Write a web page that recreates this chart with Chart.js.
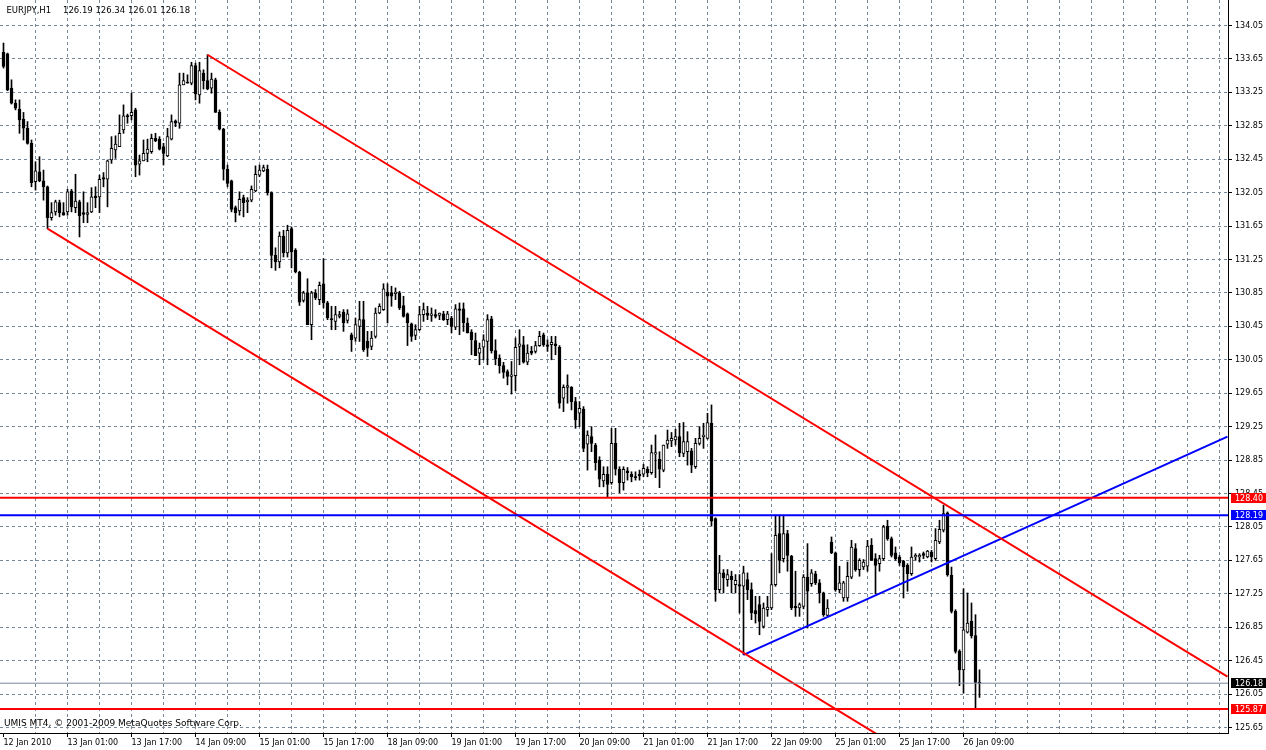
<!DOCTYPE html>
<html>
<head>
<meta charset="utf-8">
<script src="https://cdn.jsdelivr.net/npm/chart.js@4.4.1/dist/chart.umd.min.js"></script>
<style>
html,body{margin:0;padding:0;background:#ffffff;overflow:hidden;}
#wrap{position:relative;width:1266px;height:750px;}
canvas{display:block;}
</style>
</head>
<body>
<div id="wrap"><canvas id="c" width="1266" height="750"></canvas></div>
<script>
// ---------------- data ----------------
const symbol = 'EURJPY,H1';
const lastOHLC = [126.19, 126.34, 126.01, 126.18];
const copyright = 'UMIS MT4, \u00A9 2001-2009 MetaQuotes Software Corp.';

// time labels, one every 16 hourly bars starting at bar 0
const timeLabels = ['12 Jan 2010','13 Jan 01:00','13 Jan 17:00','14 Jan 09:00','15 Jan 01:00','15 Jan 17:00',
  '18 Jan 09:00','19 Jan 01:00','19 Jan 17:00','20 Jan 09:00','21 Jan 01:00','21 Jan 17:00','22 Jan 09:00',
  '25 Jan 01:00','25 Jan 17:00','26 Jan 09:00'];

const yTickValues = [125.65,126.05,126.45,126.85,127.25,127.65,128.05,128.45,128.85,129.25,129.65,
  130.05,130.45,130.85,131.25,131.65,132.05,132.45,132.85,133.25,133.65,134.05];

const opens = [
133.73,133.71,133.30,133.12,133.05,132.93,132.82,132.64,132.18,132.30,132.19,132.12,131.75,131.82,131.93,131.81,
131.82,132.07,131.87,131.94,131.81,131.79,131.82,132.01,132.00,132.23,132.21,132.44,132.56,132.60,132.80,132.97,
132.97,133.04,132.39,132.43,132.52,132.54,132.70,132.69,132.60,132.49,132.69,132.91,132.88,133.34,133.37,133.36,
133.57,133.22,133.48,133.39,133.30,133.40,133.01,132.81,132.33,132.19,131.87,131.83,131.99,131.94,131.96,132.07,
132.26,132.31,132.33,132.05,131.30,131.22,131.53,131.33,131.62,131.36,131.10,130.76,130.85,130.47,130.85,130.77,
130.96,130.73,130.54,130.51,130.57,130.62,130.52,130.35,130.31,130.45,130.53,130.27,130.21,130.33,130.61,130.65,
130.86,130.85,130.84,130.85,130.70,130.60,130.48,130.34,130.41,130.59,130.61,130.58,130.59,130.58,130.60,130.53,
130.55,130.44,130.66,130.66,130.49,130.38,130.28,130.13,130.20,130.27,130.54,130.16,130.07,129.98,129.91,129.85,
129.86,130.21,130.23,130.02,130.15,130.15,130.22,130.35,130.23,130.23,130.24,130.20,129.59,129.72,129.72,129.55,
129.41,129.46,129.04,129.13,129.03,128.85,128.60,128.68,128.58,129.05,128.74,128.58,128.72,128.68,128.65,128.68,
128.68,128.74,128.70,128.92,128.86,128.73,129.04,129.08,129.09,129.13,128.93,128.95,128.96,128.77,129.05,129.13,
129.11,129.29,128.15,127.30,127.50,127.42,127.46,127.36,127.36,127.34,127.42,127.30,127.05,127.12,126.86,127.06,
127.08,127.36,127.97,127.67,127.97,127.70,127.10,127.08,127.10,127.45,127.37,127.49,127.38,127.26,126.99,127.87,
127.74,127.30,127.20,127.20,127.45,127.79,127.54,127.57,127.58,127.83,127.67,127.61,127.67,128.06,127.91,127.74,
127.69,127.64,127.59,127.49,127.69,127.69,127.73,127.69,127.75,127.67,127.87,128.01,128.22,127.47,127.04,126.56,
126.34,126.79,126.92,126.75,126.19];

const highs = [
133.84,133.72,133.40,133.16,133.16,133.01,132.90,132.68,132.42,132.48,132.32,132.13,131.93,131.96,131.96,131.93,
132.09,132.09,132.27,131.96,132.06,131.93,132.11,132.12,132.26,132.29,132.44,132.72,132.73,132.98,133.10,132.99,
133.24,133.06,132.50,132.68,132.69,132.75,132.76,132.72,132.64,132.82,132.98,132.92,133.48,133.48,133.46,133.61,
133.60,133.61,133.52,133.70,133.48,133.42,133.04,132.82,132.38,132.20,131.89,132.06,132.02,131.99,132.13,132.37,
132.38,132.38,132.38,132.06,131.39,131.58,131.60,131.66,131.64,131.38,131.11,130.87,131.02,130.87,130.89,130.98,
131.26,130.75,130.69,130.69,130.63,130.65,130.65,130.37,130.55,130.75,130.75,130.39,130.39,130.67,130.72,130.96,
130.96,130.93,130.91,130.87,130.81,130.61,130.49,130.47,130.69,130.73,130.69,130.67,130.65,130.61,130.63,130.63,
130.57,130.71,130.73,130.73,130.55,130.41,130.37,130.25,130.35,130.59,130.57,130.29,130.11,130.02,129.93,130.03,
130.31,130.41,130.33,130.23,130.21,130.27,130.39,130.37,130.29,130.33,130.33,130.22,129.75,129.87,129.73,129.60,
129.55,129.49,129.20,129.25,129.05,128.89,128.77,128.77,129.23,129.23,128.77,128.77,128.76,128.71,128.71,128.73,
128.80,128.77,129.03,129.15,128.95,129.03,129.21,129.18,129.22,129.29,129.30,129.19,128.99,129.11,129.25,129.29,
129.41,129.51,128.16,127.71,127.54,127.54,127.52,127.48,127.48,127.58,127.50,127.38,127.22,127.22,127.14,127.22,
127.73,128.19,128.19,128.19,128.01,127.71,127.52,127.14,127.48,127.85,127.54,127.52,127.42,127.27,127.18,127.93,
127.75,127.58,127.40,127.63,127.89,127.85,127.67,127.66,127.89,127.91,127.73,127.71,128.07,128.13,127.93,127.81,
127.71,127.65,127.61,127.81,127.73,127.73,127.75,127.77,127.77,128.03,128.13,128.31,128.23,127.57,127.06,126.58,
127.31,127.26,127.14,127.00,126.34];

const lows = [
133.54,133.27,133.11,133.04,132.76,132.68,132.63,132.12,132.08,132.18,131.96,131.62,131.72,131.78,131.76,131.78,
131.78,131.82,131.81,131.52,131.69,131.69,131.81,131.87,131.81,132.12,131.88,132.40,132.46,132.60,132.76,132.88,
132.92,132.24,132.26,132.43,132.42,132.52,132.66,132.56,132.38,132.48,132.68,132.84,132.82,133.34,133.36,133.34,
133.16,133.12,133.29,133.28,133.24,133.01,132.80,132.20,132.12,131.82,131.70,131.78,131.76,131.81,131.94,132.06,
132.24,132.30,132.02,131.15,131.12,131.15,131.28,131.28,131.15,131.09,130.70,130.74,130.47,130.29,130.77,130.71,
130.67,130.53,130.41,130.41,130.55,130.39,130.49,130.15,130.27,130.27,130.15,130.09,130.17,130.31,130.60,130.64,
130.49,130.69,130.77,130.65,130.56,130.22,130.27,130.29,130.40,130.51,130.53,130.51,130.55,130.53,130.52,130.47,
130.37,130.41,130.35,130.39,130.37,130.11,130.10,129.99,130.05,129.99,130.13,129.99,129.89,129.83,129.75,129.64,
129.68,129.99,130.01,129.99,130.11,130.13,130.21,130.21,130.15,130.05,130.11,129.47,129.43,129.53,129.45,129.23,
129.25,128.95,128.73,128.95,128.73,128.53,128.53,128.41,128.56,128.67,128.46,128.49,128.61,128.59,128.61,128.61,
128.65,128.65,128.68,128.64,128.52,128.71,128.99,129.01,129.03,128.89,128.89,128.79,128.70,128.75,129.03,128.99,
129.10,128.06,127.16,127.26,127.26,127.34,127.26,127.26,127.02,126.52,127.18,126.94,126.90,126.76,126.84,126.98,
127.06,127.34,127.50,127.63,127.52,127.06,126.98,126.98,127.07,126.84,127.34,127.36,127.14,126.98,126.98,127.73,
127.28,127.26,127.16,127.16,127.43,127.52,127.46,127.54,127.52,127.65,127.25,127.52,127.65,127.89,127.69,127.65,
127.59,127.20,127.28,127.47,127.65,127.63,127.67,127.68,127.63,127.65,127.85,127.99,127.46,127.02,126.54,126.15,
126.06,126.78,126.72,125.87,126.01];

const closes = [
133.56,133.28,133.12,133.06,132.92,132.82,132.64,132.17,132.31,132.19,132.12,131.75,131.81,131.94,131.81,131.78,
132.06,131.88,131.95,131.77,131.79,131.81,132.00,131.99,132.21,132.21,132.43,132.58,132.63,132.76,132.97,132.96,
133.01,132.38,132.43,132.52,132.57,132.70,132.67,132.57,132.52,132.72,132.90,132.88,133.34,133.39,133.36,133.57,
133.23,133.51,133.39,133.29,133.41,133.01,132.81,132.33,132.16,131.85,131.81,131.97,131.93,131.96,132.09,132.27,
132.32,132.35,132.05,131.30,131.22,131.53,131.33,131.60,131.34,131.10,130.74,130.85,130.47,130.85,130.79,130.94,
130.73,130.55,130.53,130.59,130.59,130.49,130.60,130.29,130.47,130.53,130.17,130.19,130.31,130.61,130.69,130.90,
130.81,130.81,130.86,130.67,130.57,130.49,130.33,130.41,130.59,130.65,130.58,130.60,130.57,130.61,130.53,130.60,
130.45,130.66,130.64,130.49,130.37,130.29,130.10,130.19,130.29,130.53,130.16,130.06,129.98,129.90,129.85,129.87,
130.20,130.24,130.02,130.13,130.13,130.22,130.33,130.23,130.21,130.26,130.22,129.53,129.72,129.74,129.55,129.33,
129.47,128.99,129.15,129.05,128.82,128.62,128.68,128.56,129.05,128.74,128.58,128.74,128.70,128.65,128.64,128.66,
128.75,128.70,128.94,128.94,128.74,129.03,129.09,129.11,129.13,128.94,129.07,129.07,128.79,129.05,129.11,129.15,
129.30,128.12,127.30,127.50,127.44,127.48,127.42,127.41,127.34,127.50,127.30,127.02,127.01,126.92,127.08,127.09,
127.36,127.95,127.65,127.97,127.71,127.08,127.08,127.12,127.45,127.28,127.50,127.38,127.26,127.00,127.08,127.74,
127.30,127.38,127.38,127.46,127.81,127.54,127.65,127.63,127.82,127.65,127.59,127.67,128.05,127.91,127.71,127.67,
127.62,127.57,127.49,127.69,127.71,127.71,127.71,127.76,127.69,127.89,128.02,128.21,127.48,127.04,126.56,126.34,
126.82,126.90,126.75,126.19,126.18];

// hand-drawn objects: [bar index, price] anchor pairs
const upperChannel = [[51, 133.70], [306, 126.26]];
const lowerChannel = [[11, 131.62], [230, 125.23]];
const blueTrend    = [[185, 126.52], [306, 129.13]];
const redLevels  = [128.40, 125.87];
const blueLevels = [128.19];
const bidPrice = 126.18;

// ---------------- chart ----------------
const X_MIN = -0.875, X_MAX = 306.125;
const Y_MIN = 125.5842, Y_MAX = 134.355;
const GRID = '#778899';
const FONT = 'DejaVu Sans';
Chart.defaults.font.family = FONT;
Chart.defaults.font.size = 8;
Chart.defaults.color = '#000000';

const barIdx = opens.map((_, i) => i);
const wickData = barIdx.map(i => ({x: i, y: [lows[i], highs[i]]}));
const bodyData = barIdx.map(i => ({x: i, y: [opens[i], closes[i]]}));
const isUp = i => closes[i] > opens[i];
const seg = pts => pts.map(p => ({x: p[0], y: p[1]}));
const hseg = v => [{x: X_MIN, y: v}, {x: X_MAX, y: v}];

const lineDs = (data, color, width) => ({
  type: 'line', data, borderColor: color, borderWidth: width, pointRadius: 0,
  fill: false, tension: 0, order: 1, clip: 0
});

const datasets = [
  {type: 'bar', data: wickData, backgroundColor: '#000000', borderWidth: 0, barThickness: 1,
   grouped: false, order: 4},
  {type: 'bar', data: bodyData,
   backgroundColor: c => isUp(c.dataIndex) ? '#ffffff' : '#000000',
   borderColor: '#000000', borderWidth: 1, borderSkipped: false, barThickness: 3,
   minBarLength: 1, grouped: false, order: 3},
  lineDs(hseg(bidPrice), GRID, 1),
  ...redLevels.map(v => lineDs(hseg(v), '#ff0000', 2)),
  ...blueLevels.map(v => lineDs(hseg(v), '#0000ff', 2)),
  lineDs(seg(upperChannel), '#ff0000', 2),
  lineDs(seg(lowerChannel), '#ff0000', 2),
  lineDs(seg(blueTrend), '#0000ff', 2)
];

const textPlugin = {
  id: 'mtText',
  afterDraw(chart) {
    const ctx = chart.ctx;
    const y = chart.scales.y;
    ctx.save();
    ctx.font = '8px "' + FONT + '"';
    ctx.textBaseline = 'middle';
    ctx.textAlign = 'left';
    // price tags on the price axis
    const tags = [];
    redLevels.forEach(v => tags.push([v, '#ff0000']));
    blueLevels.forEach(v => tags.push([v, '#0000ff']));
    tags.push([bidPrice, '#000000']);
    tags.forEach(([v, col]) => {
      const py = Math.round(y.getPixelForValue(v));
      ctx.fillStyle = col;
      ctx.fillRect(chart.chartArea.right + 3, py - 5, 38, 10);
      ctx.fillStyle = '#ffffff';
      ctx.fillText(v.toFixed(2), chart.chartArea.right + 7, py + 0.5);
    });
    // title
    ctx.fillStyle = '#000000';
    ctx.font = '8.5px "' + FONT + '"';
    ctx.fillText(symbol, 6.5, 10.5);
    ctx.fillText(lastOHLC.map(v => v.toFixed(2)).join(' '), 63, 10.5);
    // copyright
    ctx.font = '9px "' + FONT + '"';
    ctx.fillText(copyright, 4, chart.chartArea.bottom - 9.5);
    ctx.restore();
  }
};

new Chart(document.getElementById('c'), {
  type: 'bar',
  data: {datasets},
  options: {
    responsive: false, animation: false, events: [],
    layout: {padding: 0},
    plugins: {legend: {display: false}, tooltip: {enabled: false}},
    scales: {
      x: {
        type: 'linear', position: 'bottom', min: X_MIN, max: X_MAX, offset: false,
        afterBuildTicks: s => { const t = []; for (let v = 0; v <= 304; v += 8) t.push({value: v}); s.ticks = t; },
        afterFit: s => { s.height = 17; s.paddingLeft = 0; s.paddingRight = 0; },
        ticks: {
          autoSkip: false, maxRotation: 0, minRotation: 0, align: 'start', padding: 1,
          font: {family: FONT, size: 8}, color: '#000000',
          callback: v => (v % 16 === 0 && v / 16 < timeLabels.length) ? timeLabels[v / 16] : ''
        },
        grid: {
          offset: false, lineWidth: 1, drawTicks: true, tickLength: 4,
          color: c => (c.tick && c.tick.value > 0) ? GRID : 'rgba(0,0,0,0)',
          tickColor: c => (c.tick && c.tick.value % 16 === 0 && c.tick.value / 16 < timeLabels.length) ? '#000000' : 'rgba(0,0,0,0)'
        },
        border: {display: true, color: '#000000', width: 1, dash: [3, 3]}
      },
      y: {
        type: 'linear', position: 'right', min: Y_MIN, max: Y_MAX,
        afterBuildTicks: s => { s.ticks = yTickValues.map(v => ({value: v})); },
        afterFit: s => { s.width = 38; s.paddingTop = 0; s.paddingBottom = 0; },
        ticks: {autoSkip: false, padding: 3, font: {family: FONT, size: 8}, color: '#000000',
          callback: v => v.toFixed(2)},
        grid: {lineWidth: 1, drawTicks: true, tickLength: 4, color: GRID, tickColor: '#000000'},
        border: {display: true, color: '#000000', width: 1, dash: [3, 3]}
      }
    }
  },
  plugins: [textPlugin]
});
</script>
</body>
</html>
